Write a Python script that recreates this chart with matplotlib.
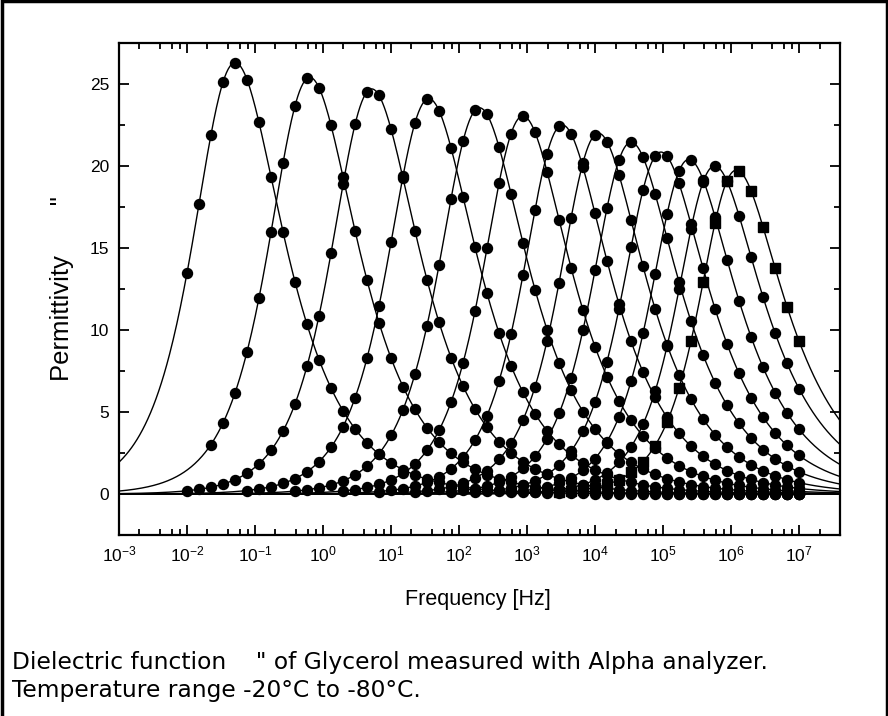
import numpy as np
import matplotlib
matplotlib.use("Agg")
import matplotlib.pyplot as plt
from matplotlib.patches import Rectangle
from matplotlib.ticker import LogLocator, LogFormatterSciNotation, NullFormatter, MultipleLocator

plt.rcParams['font.family'] = ['Liberation Sans', 'DejaVu Sans']

# frequency points of the Alpha analyzer sweep [Hz]
freq_hz = [0.01, 0.015, 0.0225, 0.0338, 0.0508, 0.0763, 0.1145, 0.172, 0.258, 0.388,
           0.582, 0.873, 1.31, 1.97, 2.96, 4.44, 6.66, 10.0, 15.0, 22.5,
           33.8, 50.8, 76.3, 114.5, 172, 258, 388, 582, 873, 1310,
           1970, 2960, 4440, 6660, 1.0e4, 1.5e4, 2.25e4, 3.38e4, 5.08e4, 7.63e4,
           1.145e5, 1.72e5, 2.58e5, 3.88e5, 5.82e5, 8.73e5, 1.31e6, 1.97e6, 2.96e6, 4.44e6,
           6.66e6, 1.0e7]

# loss peak of each temperature (-80 C ... -20 C): position [Hz] and height
peak_freq = [0.051, 0.64, 5.2, 36, 200, 870, 3300, 11200, 33900, 93300, 240000, 575000, 1200000]
peak_eps = [26.3, 25.4, 24.7, 24.1, 23.55, 23.05, 22.5, 22.0, 21.45, 20.85, 20.4, 20.0, 19.75]
# index of the first measured frequency for each temperature
first_point = [0, 2, 0, 5, 9, 13, 16, 19, 22, 24, 27, 29, 31]

# Havriliak-Negami shape parameters of the fit lines
hn_alpha = [0.90, 0.91, 0.92, 0.92, 0.93, 0.94, 0.95, 0.96, 0.96, 0.97, 0.98, 0.99, 1.00]
hn_gamma = [0.68, 0.67, 0.66, 0.65, 0.64, 0.63, 0.62, 0.61, 0.60, 0.59, 0.58, 0.56, 0.55]


def hn_shape(x, a, g):
    return -(1.0 / (1.0 + (1j * x) ** a) ** g).imag


def eps_loss(f, fp, hp, a, g):
    # scale the shape so that its maximum sits at (fp, hp)
    w_ref = np.logspace(-3, 3, 6001)
    s_ref = hn_shape(w_ref, a, g)
    tau = w_ref[np.argmax(s_ref)] / (2 * np.pi * fp)
    return hp / s_ref.max() * hn_shape(2 * np.pi * np.asarray(f) * tau, a, g)


fig = plt.figure(figsize=(8.88, 7.16), dpi=100)
ax = fig.add_axes([119 / 888, 1 - 535 / 716, 721 / 888, 492 / 716])

x_min, x_max = 1e-3, 4e7
f_line = np.logspace(np.log10(x_min), np.log10(x_max), 800)
freqs = np.array(freq_hz)

for i in range(len(peak_freq)):
    pars = (peak_freq[i], peak_eps[i], hn_alpha[i], hn_gamma[i])
    ax.plot(f_line, eps_loss(f_line, *pars), color='black', lw=1.0, zorder=2)
    fpts = freqs[first_point[i]:]
    if i == len(peak_freq) - 1:
        ax.plot(fpts, eps_loss(fpts, *pars), 's', color='black', ms=6.5, zorder=2.5)
    else:
        ax.plot(fpts, eps_loss(fpts, *pars), 'o', color='black', ms=7.2, zorder=3)

ax.set_xscale('log')
ax.set_xlim(x_min, x_max)
ax.set_ylim(-2.5, 27.5)

ax.xaxis.set_major_locator(LogLocator(base=10, numticks=20))
ax.xaxis.set_major_formatter(LogFormatterSciNotation())
ax.xaxis.set_minor_locator(LogLocator(base=10, subs=[2, 4, 6, 8], numticks=20))
ax.xaxis.set_minor_formatter(NullFormatter())
ax.yaxis.set_major_locator(MultipleLocator(5))
ax.yaxis.set_minor_locator(MultipleLocator(2.5))

ax.tick_params(which='both', direction='in', top=True, right=True, labelsize=12.5, width=1.3)
ax.tick_params(which='major', length=7, pad=7)
ax.tick_params(which='minor', length=4)
for sp in ax.spines.values():
    sp.set_linewidth(1.6)

fig.text(478 / 888, 1 - 600 / 716, 'Frequency [Hz]', ha='center', va='center', fontsize=15.5)
fig.text(62 / 888, 1 - 289 / 716, 'Permittivity       "', ha='center', va='center',
         rotation=90, fontsize=18.5)

fig.text(12 / 888, 1 - 662 / 716, 'Dielectric function    " of Glycerol measured with Alpha analyzer.',
         ha='left', va='center', fontsize=16.8, family='DejaVu Sans')
fig.text(12 / 888, 1 - 690 / 716, 'Temperature range -20°C to -80°C.',
         ha='left', va='center', fontsize=16.8, family='DejaVu Sans')

# frame round the whole picture
fig.add_artist(Rectangle((1.5 / 888, -0.05), 1 - 3 / 888, 1.05 - 1.5 / 716,
                         transform=fig.transFigure, fill=False, lw=2.5, ec='black'))

fig.savefig('out.png', dpi=100)
